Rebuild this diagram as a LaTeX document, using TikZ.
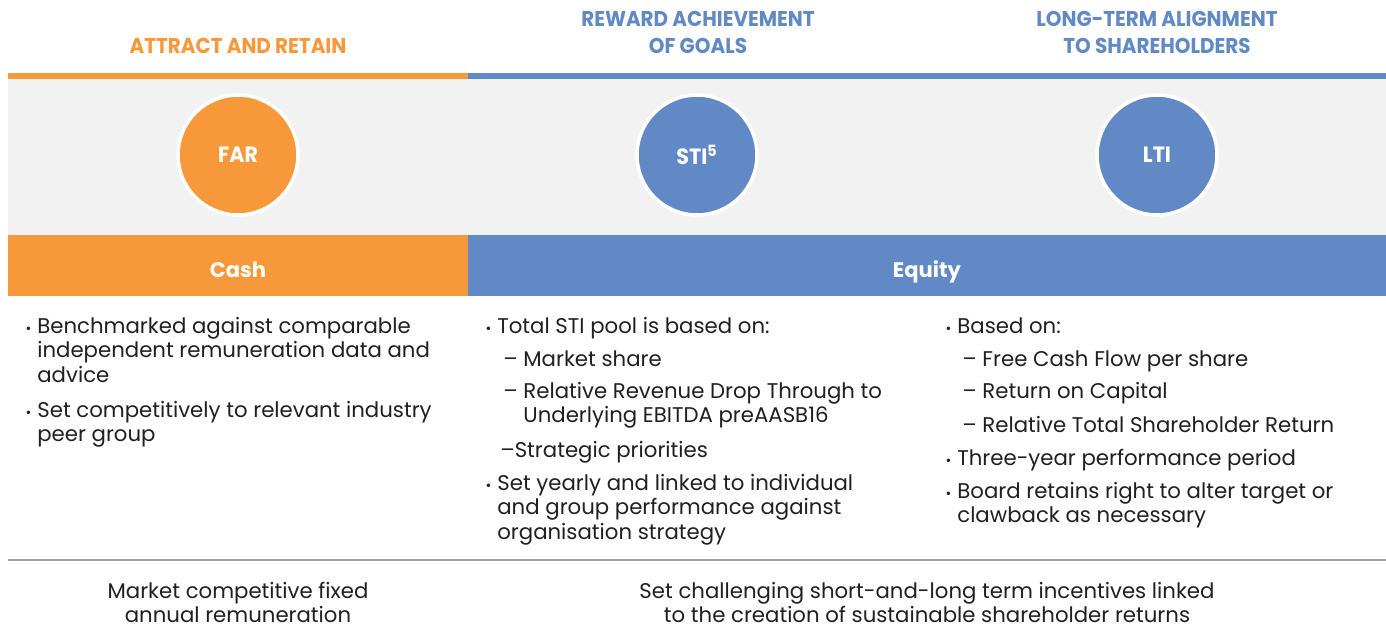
\documentclass[tikz,border=0pt]{standalone}
\usepackage{fontspec}
\usepackage{graphicx}
\setmainfont{Poppins}
\usetikzlibrary{positioning}
\definecolor{farorange}{HTML}{F7993A}
\definecolor{eqblue}{HTML}{6089C6}
\definecolor{bandgrey}{HTML}{F1F2F1}
\definecolor{bodyink}{HTML}{231F20}
\newcommand{\narrow}[1]{\scalebox{0.93}[1]{#1}}
\newcommand{\bodyfont}{\fontsize{12.1}{14.2}\selectfont}
% first line of a block sits on the node's base
\newcommand{\lines}[1]{\begin{tabular}[t]{@{}l@{}}#1\end{tabular}}
\newcommand{\clines}[1]{\begin{tabular}[t]{@{}c@{}}#1\end{tabular}}
\tikzstyle{heading}=[anchor=base, inner sep=0, font=\bfseries\fontsize{12.2}{14.8}\selectfont]
\tikzstyle{pillar}=[circle, minimum size=2.4cm, draw=white, line width=2pt, text=white, font=\bfseries\fontsize{12.6}{14.8}\selectfont]
\tikzstyle{bar}=[anchor=base, inner sep=0, text=white, font=\bfseries\fontsize{12}{14}\selectfont]
\tikzstyle{item}=[anchor=base west, inner sep=0, text=bodyink, font=\bodyfont]
\tikzstyle{dot}=[anchor=base east, inner sep=0, xshift=-3pt, text=bodyink, font=\fontsize{8}{8}\selectfont]
\tikzstyle{foot}=[anchor=base, inner sep=0, text=bodyink, font=\bodyfont]

\begin{document}
\begin{tikzpicture}[x=0.02cm, y=-0.02cm]
  \useasboundingbox[fill=white] (0,0) rectangle (1386,636);

  % coloured stripes and grey band
  \fill[bandgrey] (8,79) rectangle (1386,235);
  \fill[farorange] (8,73) rectangle (468,79);
  \fill[eqblue] (468,73) rectangle (1386,79);
  \fill[farorange] (8,235) rectangle (468,296);
  \fill[eqblue] (468,235) rectangle (1386,296);
  \draw[black!38, line width=0.8pt] (8,560) -- (1386,560);

  % headings
  \node[heading, text=farorange] (hAttract) at (238,53)
    {\narrow{ATTRACT AND RETAIN}};
  \node[heading, text=eqblue] (hReward) at (698,53)
    {\narrow{\begin{tabular}[b]{@{}c@{}}REWARD ACHIEVEMENT\\OF GOALS\end{tabular}}};
  \node[heading, text=eqblue] (hAlign) at (1157,53)
    {\narrow{\begin{tabular}[b]{@{}c@{}}LONG-TERM ALIGNMENT\\TO SHAREHOLDERS\end{tabular}}};

  % pay elements
  \node[pillar, fill=farorange] (far) at (238,155) {\narrow{FAR}};
  \node[pillar, fill=eqblue] (sti) at (697,155) {\narrow{STI\textsuperscript{5}}};
  \node[pillar, fill=eqblue] (lti) at (1157,155) {\narrow{LTI}};

  \node[bar] (cash) at (238,277) {Cash};
  \node[bar] (equity) at (927,277) {Equity};

  % fixed pay
  \node[item] (c1a) at (37,333) {\lines{Benchmarked against comparable\\independent remuneration data and\\advice}};
  \node[dot] at (c1a.base west) {\textbullet};
  \node[item] (c1b) at (37,417) {\lines{Set competitively to relevant industry\\peer group}};
  \node[dot] at (c1b.base west) {\textbullet};

  % short term incentive
  \node[item] (c2a) at (497,333) {Total STI pool is based on:};
  \node[dot] at (c2a.base west) {\textbullet};
  \node[item] (c2b) at (503,366) {-- Market share};
  \node[item] (c2c) at (503,398) {\lines{-- Relative Revenue Drop Through to\\\phantom{-- }Underlying EBITDA preAASB16}};
  \node[item] (c2d) at (500,457) {--Strategic priorities};
  \node[item] (c2e) at (497,490) {\lines{Set yearly and linked to individual\\and group performance against\\organisation strategy}};
  \node[dot] at (c2e.base west) {\textbullet};

  % long term incentive
  \node[item] (c3a) at (957,333) {Based on:};
  \node[dot] at (c3a.base west) {\textbullet};
  \node[item] (c3b) at (962,366) {-- Free Cash Flow per share};
  \node[item] (c3c) at (962,398) {-- Return on Capital};
  \node[item] (c3d) at (962,432) {-- Relative Total Shareholder Return};
  \node[item] (c3e) at (957,465) {Three-year performance period};
  \node[dot] at (c3e.base west) {\textbullet};
  \node[item] (c3f) at (957,498) {\lines{Board retains right to alter target or\\clawback as necessary}};
  \node[dot] at (c3f.base west) {\textbullet};

  % outcomes
  \node[foot] (fixedpay) at (238,598) {\clines{Market competitive fixed\\annual remuneration}};
  \node[foot] (atrisk) at (927,598) {\clines{Set challenging short-and-long term incentives linked\\to the creation of sustainable shareholder returns}};
\end{tikzpicture}
\end{document}
